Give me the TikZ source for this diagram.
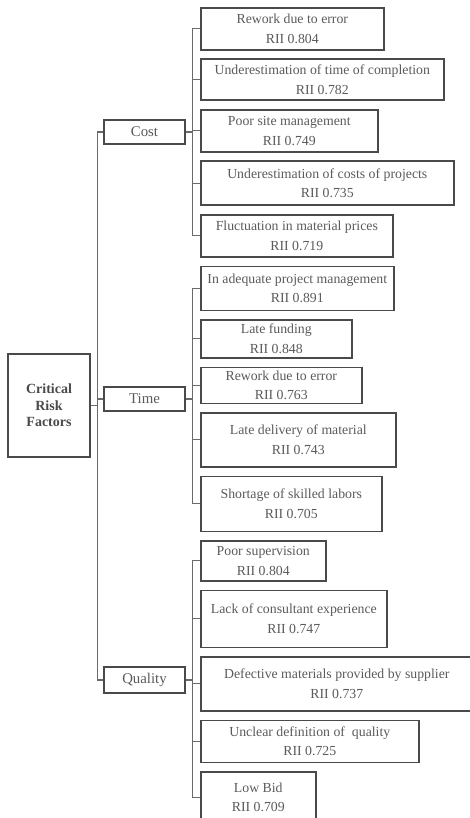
\documentclass[tikz,border=0pt]{standalone}
\usepackage{fontspec}
\setmainfont{Liberation Serif}
\usetikzlibrary{positioning}
\definecolor{boxgray}{HTML}{4A4A4A}
\definecolor{textgray}{HTML}{5A5A5A}
\definecolor{linegray}{HTML}{6A6A6A}

\begin{document}
\begin{tikzpicture}[x=1pt, y=-1pt, node distance=7.9pt,
    factor/.style={rectangle, draw=boxgray, line width=1.6pt, inner sep=0pt, align=center,
                   text=textgray, font=\fontsize{13.8}{19.5}\selectfont},
    group/.style={factor, minimum width=81pt, minimum height=24pt, font=\fontsize{14.8}{17}\selectfont},
    root/.style={factor, minimum width=82pt, minimum height=103pt, text=boxgray,
                 font=\fontsize{14}{16.5}\selectfont\bfseries},
    link/.style={draw=linegray, line width=1.2pt}]
    \useasboundingbox (0,0) rectangle (469,818);

    % Nodes
    \node[root] (risk) at (49,405.5) {Critical\\Risk\\Factors};
    \node[group] (cost) at (144.5,132) {Cost};
    \node[group] (time) at (144.5,399) {Time};
    \node[group, minimum height=26pt] (quality) at (144.5,680) {Quality};

    % Cost factors
    \node[factor, minimum width=183pt, minimum height=42pt, anchor=north west] (c1) at (200,7)
        {Rework due to error\\RII 0.804};
    \node[factor, minimum width=243pt, minimum height=41pt, below=of c1.south west, anchor=north west] (c2)
        {Underestimation of time of completion\\RII 0.782};
    \node[factor, minimum width=177pt, minimum height=42pt, below=of c2.south west, anchor=north west] (c3)
        {Poor site management\\RII 0.749};
    \node[factor, minimum width=253pt, minimum height=44pt, below=of c3.south west, anchor=north west] (c4)
        {Underestimation of costs of projects\\RII 0.735};
    \node[factor, minimum width=192pt, minimum height=42pt, below=of c4.south west, anchor=north west] (c5)
        {Fluctuation in material prices\\RII 0.719};

    % Time factors
    \node[factor, minimum width=193pt, minimum height=44pt, below=of c5.south west, anchor=north west] (t1)
        {In adequate project management\\RII 0.891};
    \node[factor, minimum width=151pt, minimum height=38pt, below=of t1.south west, anchor=north west] (t2)
        {Late funding\\RII 0.848};
    \node[factor, minimum width=161pt, minimum height=36pt, below=of t2.south west, anchor=north west] (t3)
        {Rework due to error\\RII 0.763};
    \node[factor, minimum width=195pt, minimum height=54pt, below=of t3.south west, anchor=north west] (t4)
        {Late delivery of material\\RII 0.743};
    \node[factor, minimum width=181pt, minimum height=55pt, below=of t4.south west, anchor=north west] (t5)
        {Shortage of skilled labors\\RII 0.705};

    % Quality factors
    \node[factor, minimum width=125pt, minimum height=40pt, below=of t5.south west, anchor=north west] (q1)
        {Poor supervision\\RII 0.804};
    \node[factor, minimum width=186pt, minimum height=57pt, below=of q1.south west, anchor=north west] (q2)
        {Lack of consultant experience\\RII 0.747};
    \node[factor, minimum width=272pt, minimum height=54pt, below=of q2.south west, anchor=north west] (q3)
        {Defective materials provided by supplier\\RII 0.737};
    \node[factor, minimum width=218pt, minimum height=42pt, below=of q3.south west, anchor=north west] (q4)
        {Unclear definition of\ \ quality\\RII 0.725};
    \node[factor, minimum width=115pt, minimum height=51pt, below=of q4.south west, anchor=north west] (q5)
        {Low Bid\\RII 0.709};

    % Connectors
    \foreach \g in {cost,time,quality}
        \draw[link] (risk.east) -- ++(7,0) |- (\g.west);
    \foreach \i in {1,...,5} {
        \draw[link] (cost.east) -- ++(7,0) |- (c\i.west);
        \draw[link] (time.east) -- ++(7,0) |- (t\i.west);
        \draw[link] (quality.east) -- ++(7,0) |- (q\i.west);
    }

\end{tikzpicture}
\end{document}
